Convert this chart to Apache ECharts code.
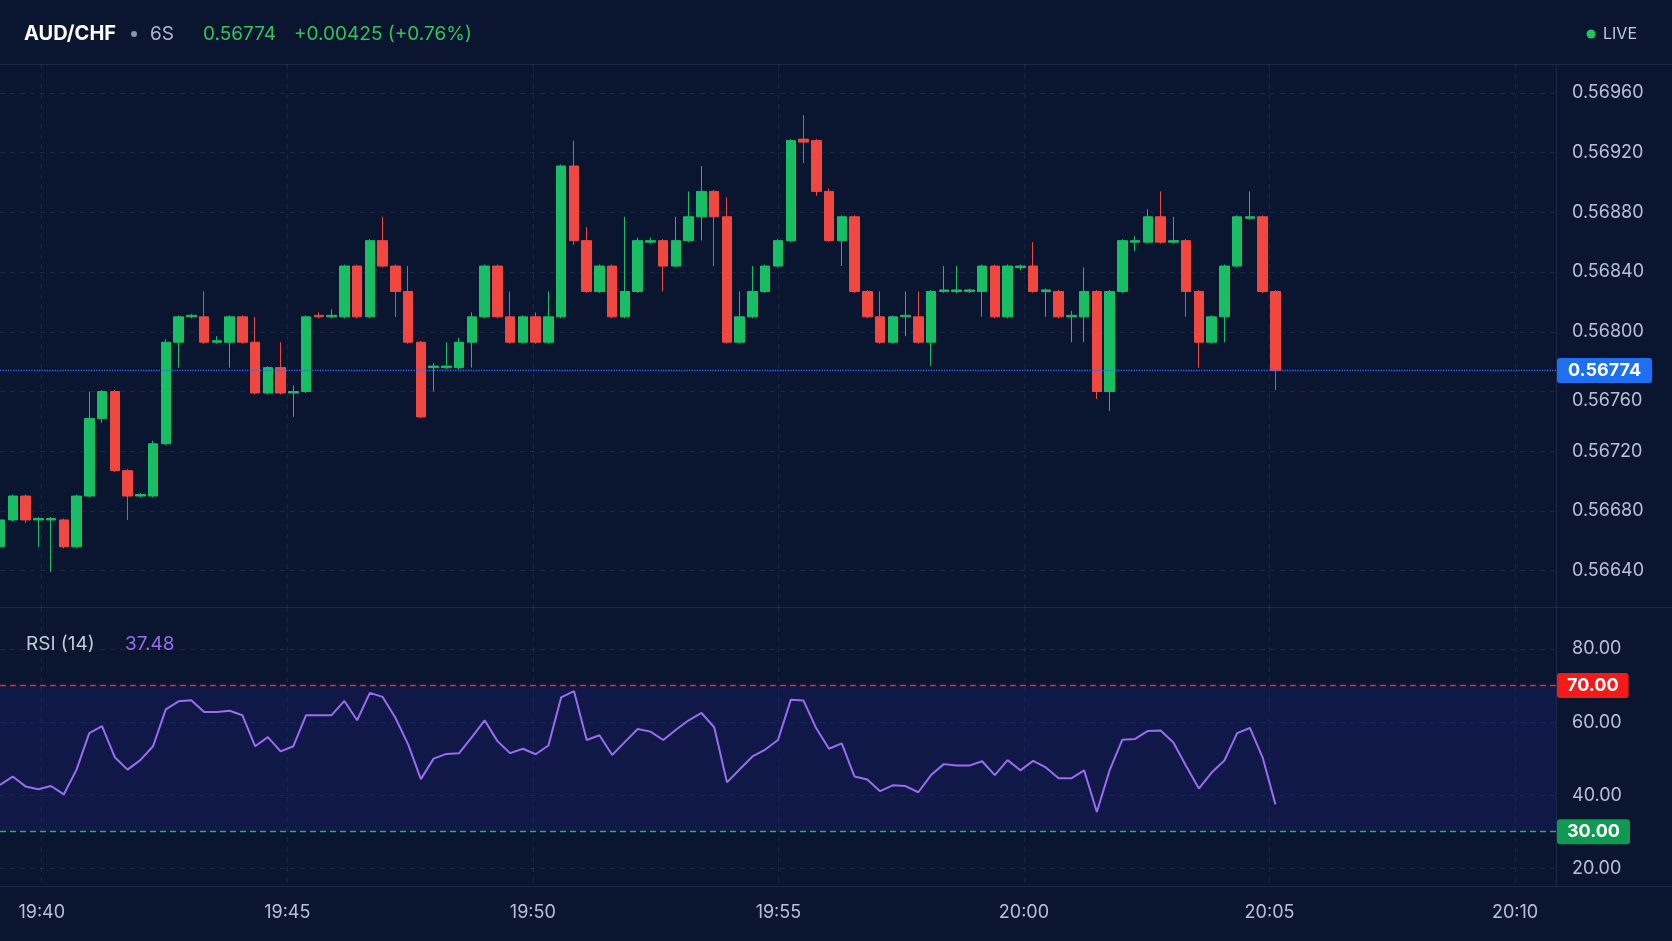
<!DOCTYPE html>
<html><head><meta charset="utf-8">
<script src="https://cdn.jsdelivr.net/npm/echarts@6/dist/echarts.min.js"></script>
<style>html,body{margin:0;padding:0;background:#0a1530;}#c{width:1672px;height:941px;}</style>
</head><body><div id="c"></div>
<script>
// ---------- data ----------
const symbol = 'AUD/CHF';
const timeframe = '6S';
const lastPrice = 0.56774;
const change = 0.00425;
const changePct = 0.76;
const rsiName = 'RSI (14)';

const opens = [0.56656,0.56674,0.56690,0.56674,0.56674,0.56674,0.56656,0.56690,0.56742,0.56760,
0.56707,0.56690,0.56690,0.56725,0.56793,0.56810,0.56810,0.56793,0.56793,0.56810,
0.56793,0.56759,0.56776,0.56759,0.56760,0.56811,0.56810,0.56810,0.56844,0.56810,
0.56861,0.56844,0.56827,0.56793,0.56776,0.56776,0.56776,0.56793,0.56810,0.56844,
0.56810,0.56793,0.56810,0.56793,0.56810,0.56911,0.56861,0.56827,0.56844,0.56810,
0.56827,0.56860,0.56861,0.56844,0.56861,0.56877,0.56894,0.56877,0.56793,0.56810,
0.56827,0.56844,0.56861,0.56929,0.56928,0.56894,0.56861,0.56877,0.56827,0.56810,
0.56793,0.56810,0.56810,0.56793,0.56827,0.56827,0.56827,0.56827,0.56844,0.56810,
0.56843,0.56844,0.56827,0.56827,0.56810,0.56810,0.56827,0.56760,0.56827,0.56860,
0.56860,0.56877,0.56860,0.56861,0.56827,0.56793,0.56810,0.56844,0.56876,0.56877,
0.56827];
const closes = [0.56674,0.56690,0.56674,0.56675,0.56675,0.56656,0.56690,0.56742,0.56760,0.56707,
0.56690,0.56691,0.56725,0.56793,0.56810,0.56811,0.56793,0.56794,0.56810,0.56793,
0.56759,0.56776,0.56759,0.56760,0.56810,0.56810,0.56811,0.56844,0.56810,0.56861,
0.56844,0.56827,0.56793,0.56743,0.56777,0.56777,0.56793,0.56810,0.56844,0.56810,
0.56793,0.56810,0.56793,0.56810,0.56911,0.56861,0.56827,0.56844,0.56810,0.56827,
0.56861,0.56861,0.56844,0.56861,0.56877,0.56894,0.56877,0.56793,0.56810,0.56827,
0.56844,0.56861,0.56928,0.56927,0.56894,0.56861,0.56877,0.56827,0.56810,0.56793,
0.56810,0.56811,0.56793,0.56827,0.56828,0.56828,0.56828,0.56844,0.56810,0.56844,
0.56844,0.56827,0.56828,0.56810,0.56811,0.56827,0.56760,0.56827,0.56861,0.56861,
0.56877,0.56860,0.56861,0.56827,0.56793,0.56810,0.56844,0.56877,0.56877,0.56827,
0.56774];
const highs = [0.56676,0.56691,0.56691,0.56676,0.56676,0.56675,0.56691,0.56760,0.56761,0.56761,
0.56708,0.56692,0.56727,0.56795,0.56811,0.56812,0.56827,0.56797,0.56811,0.56811,
0.56810,0.56777,0.56793,0.56764,0.56811,0.56813,0.56815,0.56845,0.56845,0.56862,
0.56877,0.56845,0.56844,0.56794,0.56779,0.56793,0.56796,0.56813,0.56845,0.56845,
0.56827,0.56811,0.56813,0.56827,0.56912,0.56928,0.56870,0.56845,0.56845,0.56877,
0.56863,0.56863,0.56862,0.56877,0.56894,0.56911,0.56895,0.56890,0.56827,0.56844,
0.56845,0.56862,0.56929,0.56945,0.56929,0.56896,0.56878,0.56878,0.56828,0.56827,
0.56811,0.56827,0.56827,0.56828,0.56844,0.56844,0.56829,0.56845,0.56845,0.56845,
0.56845,0.56860,0.56829,0.56828,0.56814,0.56843,0.56828,0.56828,0.56862,0.56864,
0.56882,0.56894,0.56877,0.56862,0.56828,0.56811,0.56845,0.56878,0.56894,0.56878,
0.56828];
const lows = [0.56654,0.56673,0.56672,0.56656,0.56639,0.56655,0.56655,0.56689,0.56739,0.56706,
0.56674,0.56689,0.56689,0.56724,0.56776,0.56809,0.56792,0.56792,0.56776,0.56792,
0.56758,0.56758,0.56758,0.56743,0.56759,0.56809,0.56809,0.56809,0.56809,0.56809,
0.56843,0.56810,0.56792,0.56742,0.56760,0.56775,0.56775,0.56776,0.56809,0.56809,
0.56792,0.56792,0.56792,0.56792,0.56809,0.56858,0.56826,0.56826,0.56809,0.56809,
0.56826,0.56859,0.56827,0.56843,0.56860,0.56861,0.56844,0.56792,0.56792,0.56809,
0.56826,0.56843,0.56860,0.56913,0.56891,0.56860,0.56844,0.56826,0.56809,0.56792,
0.56792,0.56797,0.56792,0.56777,0.56826,0.56826,0.56826,0.56810,0.56809,0.56809,
0.56841,0.56826,0.56810,0.56809,0.56793,0.56793,0.56755,0.56747,0.56826,0.56854,
0.56859,0.56859,0.56859,0.56810,0.56776,0.56792,0.56793,0.56843,0.56875,0.56826,
0.56761];
const rsi = [42.8,45.1,42.4,41.6,42.5,40.2,47.0,57.0,58.9,50.4,
47.0,49.6,53.4,63.5,65.7,66.0,62.8,62.8,63.1,61.9,
53.4,55.9,52.0,53.4,61.9,61.9,61.9,65.8,60.5,68.0,
66.9,61.2,53.9,44.4,50.0,51.3,51.5,55.9,60.5,54.8,
51.5,52.7,51.2,53.6,66.8,68.5,55.1,56.4,51.0,54.6,
58.1,57.4,55.1,57.9,60.5,62.5,58.6,43.5,47.1,50.6,
52.5,55.1,66.1,65.9,58.3,52.7,54.2,45.1,44.3,41.1,
42.7,42.5,40.8,45.5,48.5,48.1,48.1,49.3,45.5,49.6,
46.8,49.4,47.6,44.6,44.6,46.8,35.4,46.8,55.2,55.4,
57.6,57.7,54.4,48.0,41.8,46.2,49.5,57.0,58.4,50.3,
37.48];

const priceTicks = [0.5664,0.5668,0.5672,0.5676,0.5680,0.5684,0.5688,0.5692,0.5696];
const priceRange = [0.566157, 0.569793];
const rsiTicks = [20,40,60,80];
const rsiRange = [15.13, 91.52];
const rsiLevels = [70, 30];
const timeTicks = ['19:40','19:45','19:50','19:55','20:00','20:05','20:10'];
const timeRange = ['19:39:09','20:10:50'];
const slotCount = 123;

// ---------- build ----------
const toSec = s => { const p = s.split(':').map(Number); return p[0]*3600 + p[1]*60 + (p[2]||0); };
const fmtTime = v => { const h = Math.floor(v/3600), m = Math.round((v%3600)/60); return String(h).padStart(2,'0')+':'+String(m).padStart(2,'0'); };
const tickSecs = timeTicks.map(toSec);
const t0 = toSec(timeRange[0]), t1 = toSec(timeRange[1]);
const slots = Array.from({length: slotCount}, (_, i) => String(i));
const candles = opens.map((o, i) => [o, closes[i], lows[i], highs[i]]);

const FONT = 'Inter, "Noto Sans", "DejaVu Sans", sans-serif';
const UP = '#18be64', DOWN = '#f04840';
const AXIS_TXT = '#b7c0d4';
const SEP = '#1b2949';
const gridLine = {show: true, lineStyle: {color: 'rgba(110,130,175,0.17)', type: [5,5], width: 1}};

const chart = echarts.init(document.getElementById('c'), null, {renderer: 'canvas'});
const option = {
  backgroundColor: '#0a1530',
  animation: false,
  grid: [
    {left: -2.1, right: 116, top: 64, height: 543},
    {left: -2.1, right: 116, top: 607, height: 279}
  ],
  xAxis: [
    {type: 'category', gridIndex: 0, data: slots, boundaryGap: false, show: false},
    {type: 'value', gridIndex: 0, position: 'top', min: t0, max: t1,
     axisLine: {show: false}, axisTick: {show: false, customValues: tickSecs},
     axisLabel: {show: false, customValues: tickSecs}, splitLine: gridLine},
    {type: 'category', gridIndex: 1, data: slots, boundaryGap: false, show: false},
    {type: 'value', gridIndex: 1, position: 'bottom', min: t0, max: t1,
     axisLine: {show: false}, axisTick: {show: false, customValues: tickSecs},
     axisLabel: {customValues: tickSecs, formatter: fmtTime, color: AXIS_TXT, fontSize: 18, fontFamily: FONT, margin: 18},
     splitLine: gridLine}
  ],
  yAxis: [
    {type: 'value', gridIndex: 0, position: 'right', min: priceRange[0], max: priceRange[1],
     axisLine: {show: true, lineStyle: {color: SEP}}, axisTick: {show: false, customValues: priceTicks},
     axisLabel: {customValues: priceTicks, color: AXIS_TXT, fontSize: 18, fontFamily: FONT, margin: 16,
       formatter: v => Math.abs(v - lastPrice) < 0.00016 ? '{s|' + v.toFixed(5) + '}' : v.toFixed(5),
       rich: {s: {padding: [19,0,0,0], color: AXIS_TXT, fontSize: 18, fontFamily: FONT}}},
     splitLine: gridLine},
    {type: 'value', gridIndex: 1, position: 'right', min: rsiRange[0], max: rsiRange[1],
     axisLine: {show: true, lineStyle: {color: SEP}}, axisTick: {show: false, customValues: rsiTicks},
     axisLabel: {customValues: rsiTicks, color: AXIS_TXT, fontSize: 18, fontFamily: FONT, margin: 16,
       formatter: v => v.toFixed(2)},
     splitLine: gridLine}
  ],
  series: [
    {type: 'candlestick', xAxisIndex: 0, yAxisIndex: 0, data: candles, barWidth: 10,
     itemStyle: {color: UP, color0: DOWN, borderColor: UP, borderColor0: DOWN, borderWidth: 1},
     markLine: {silent: true, symbol: ['none','none'], animation: false, precision: 5,
       data: [{yAxis: lastPrice}],
       lineStyle: {color: '#2f6bff', type: 'dotted', width: 1.3},
       label: {show: true, position: 'end', distance: 1, formatter: () => lastPrice.toFixed(5),
         backgroundColor: '#1f6ff2', color: '#ffffff', fontWeight: 'bold', fontSize: 18, fontFamily: FONT,
         padding: [4,11,3,11], borderRadius: 3}}},
    {type: 'line', xAxisIndex: 2, yAxisIndex: 1, data: rsi, symbol: 'none',
     lineStyle: {color: '#9a6cf0', width: 2}, z: 5,
     markArea: {silent: true, itemStyle: {color: 'rgba(40,40,180,0.18)'},
       data: [[{yAxis: rsiLevels[1]}, {yAxis: rsiLevels[0]}]]},
     markLine: {silent: true, symbol: ['none','none'], animation: false,
       lineStyle: {type: [6,4], width: 1.3},
       label: {show: true, position: 'end', distance: 1, formatter: p => p.value.toFixed(2),
         color: '#ffffff', fontWeight: 'bold', fontSize: 18, fontFamily: FONT, padding: [4,10,3,10], borderRadius: 3},
       data: [
         {yAxis: rsiLevels[0], lineStyle: {color: '#ea2a2a'}, label: {backgroundColor: '#f41a1a'}},
         {yAxis: rsiLevels[1], lineStyle: {color: '#1db954'}, label: {backgroundColor: '#0f9a52'}}
       ]}}
  ],
  graphic: [
    {type: 'line', silent: true, shape: {x1: 0, y1: 64.5, x2: 1672, y2: 64.5}, style: {stroke: SEP, lineWidth: 1}},
    {type: 'line', silent: true, shape: {x1: 0, y1: 607.5, x2: 1672, y2: 607.5}, style: {stroke: SEP, lineWidth: 1}},
    {type: 'line', silent: true, shape: {x1: 0, y1: 886.5, x2: 1672, y2: 886.5}, style: {stroke: SEP, lineWidth: 1}},
    {type: 'text', x: 24, y: 34, style: {text: symbol, fill: '#ffffff', font: 'bold 20px ' + FONT, textVerticalAlign: 'middle', verticalAlign: 'middle'}},
    {type: 'circle', shape: {cx: 134, cy: 34, r: 3}, style: {fill: '#8b95ad'}},
    {type: 'text', x: 150, y: 34, style: {text: timeframe, fill: '#aeb8cf', font: '19px ' + FONT, textVerticalAlign: 'middle', verticalAlign: 'middle'}},
    {type: 'text', x: 203, y: 34, style: {text: lastPrice.toFixed(5), fill: '#34c25a', font: '19px ' + FONT, textVerticalAlign: 'middle', verticalAlign: 'middle'}},
    {type: 'text', x: 294, y: 34, style: {text: '+' + change.toFixed(5) + ' (+' + changePct.toFixed(2) + '%)', fill: '#34c25a', font: '19px ' + FONT, textVerticalAlign: 'middle', verticalAlign: 'middle'}},
    {type: 'circle', shape: {cx: 1591, cy: 34, r: 4.5}, style: {fill: '#1fc45a'}},
    {type: 'text', x: 1603, y: 34, style: {text: 'LIVE', fill: '#c3cad9', font: '16px ' + FONT, textVerticalAlign: 'middle', verticalAlign: 'middle'}},
    {type: 'text', x: 26, y: 644, style: {text: rsiName, fill: '#c3cad9', font: '19px ' + FONT, textVerticalAlign: 'middle', verticalAlign: 'middle'}},
    {type: 'text', x: 125, y: 644, style: {text: rsi[rsi.length-1].toFixed(2), fill: '#9a6cf0', font: '19px ' + FONT, textVerticalAlign: 'middle', verticalAlign: 'middle'}}
  ]
};
chart.setOption(option);
</script>
</body></html>
